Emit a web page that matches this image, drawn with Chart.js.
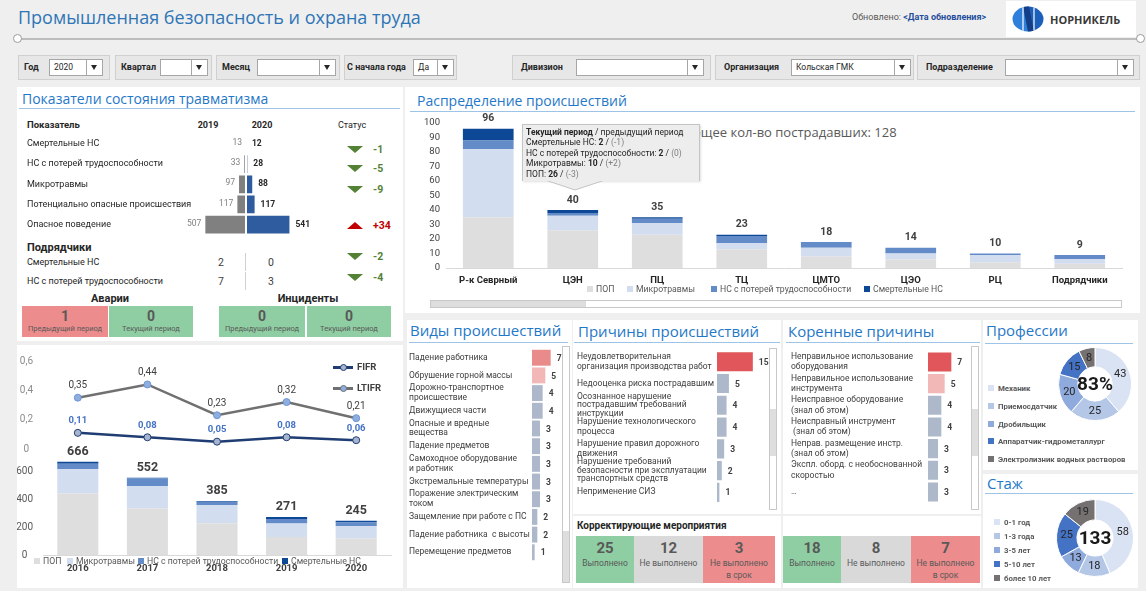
<!DOCTYPE html>
<html lang="ru">
<head>
<meta charset="utf-8">
<title>Промышленная безопасность и охрана труда</title>
<script src="https://cdn.jsdelivr.net/npm/chart.js@4.4.1/dist/chart.umd.min.js"></script>
<style>
  html, body { margin: 0; padding: 0; }
  body { width: 1146px; height: 591px; overflow: hidden; position: relative; background: #efefef; font-family: Roboto, sans-serif; color: #262626; }
  .a { position: absolute; white-space: nowrap; }
  .panel { position: absolute; background: #fff; }
  .ttl { position: absolute; color: #1f78c8; font-family: "Open Sans", sans-serif; font-size: 15px; line-height: 15px; white-space: nowrap; }
  .ul { position: absolute; height: 1px; background: #9dc3e6; }
  canvas { position: absolute; }
  .fbox { position: absolute; top: 55px; height: 25px; background: #e7e7e7; border: 1px solid #d0d0d0; box-sizing: border-box; }
  .flab { position: absolute; left: 5px; top: 6px; font-size: 9px; font-weight: bold; line-height: 11px; white-space: nowrap; }
  .dd { position: absolute; top: 3px; height: 17px; background: #fff; border: 1px solid #a6a6a6; box-sizing: border-box; font-size: 8.5px; line-height: 15px; padding-left: 4px; }
  .dd i { position: absolute; right: 0; top: 0; width: 15px; height: 15px; border-left: 1px solid #a6a6a6; }
  .dd i:after { content: ''; position: absolute; left: 4px; top: 5px; border-left: 3.5px solid transparent; border-right: 3.5px solid transparent; border-top: 5px solid #262626; }
  .kbox { position: absolute; height: 31px; text-align: center; color: #595959; }
  .kbox b { display: block; font-size: 14px; line-height: 16px; margin-top: 2px; }
  .kbox span { display: block; font-size: 7.5px; line-height: 10px; }
  .cbox { position: absolute; top: 536px; height: 47px; text-align: center; color: #595959; }
  .cbox b { display: block; font-size: 15px; line-height: 17px; margin-top: 4px; }
  .cbox span { display: block; font-size: 8.5px; line-height: 12px; }
  .tri { position: absolute; width: 0; height: 0; border-left: 8px solid transparent; border-right: 8px solid transparent; }
  .sb { position: absolute; border: 1px solid #c8c8c8; box-sizing: border-box; background: #fff; }
  .sb i { position: absolute; left: 0; right: 0; background: #dedede; }
  .lg { position: absolute; font-size: 8.7px; line-height: 11px; color: #595959; white-space: nowrap; }
  .lg i { display: inline-block; width: 6px; height: 6px; margin-right: 3px; vertical-align: 0; }
  .dl { position: absolute; font-size: 7.8px; font-weight: bold; line-height: 10px; color: #595959; white-space: nowrap; }
  .dl i { display: inline-block; width: 6px; height: 6px; margin-right: 4px; }
</style>
</head>
<body>

<!-- header -->
<div class="a" style="left:18px;top:8px;font-family:'Open Sans',sans-serif;font-size:18px;line-height:18px;color:#2e75b6;">Промышленная безопасность и охрана труда</div>
<div class="a" style="left:852px;top:12px;font-size:9px;line-height:10px;color:#595959;">Обновлено: <b style="color:#1f4e9c">&lt;Дата обновления&gt;</b></div>
<div class="a" style="left:1006px;top:1px;width:130px;height:36px;background:#fff;"></div>
<svg class="a" style="left:1012px;top:6px" width="32" height="26" viewBox="0 0 32 26">
  <defs><clipPath id="logoClip"><ellipse cx="16" cy="13" rx="15.5" ry="12.5"/></clipPath></defs>
  <g clip-path="url(#logoClip)">
    <rect x="0" y="0" width="16" height="26" fill="#2f80db"/>
    <rect x="16" y="0" width="16" height="26" fill="#1b5fba"/>
    <polygon points="11,0 17,0 22,26 16,26" fill="#143f86"/>
    <path d="M11 0 L11 26 M22 0 L22 26" stroke="#fff" stroke-width="1.2"/>
  </g>
</svg>
<div class="a" style="left:1050px;top:14px;font-family:'Open Sans',sans-serif;font-size:11px;line-height:12px;font-weight:bold;color:#3a3a3a;">НОРНИКЕЛЬ</div>
<div class="a" style="left:18px;top:38px;width:1122px;height:1.5px;background:#bdbdbd;"></div>
<div class="a" style="left:13px;top:34px;width:7px;height:7px;border:1px solid #9a9a9a;border-radius:50%;background:#fff;"></div>
<div class="a" style="left:1136px;top:34px;width:7px;height:7px;border:1px solid #9a9a9a;border-radius:50%;background:#fff;"></div>

<div class="fbox" style="left:18px;width:92px;"><span class="flab">Год</span><div class="dd" style="left:30px;width:54px;">2020<i></i></div></div>
<div class="fbox" style="left:115px;width:97px;"><span class="flab">Квартал</span><div class="dd" style="left:44px;width:48px;"><i></i></div></div>
<div class="fbox" style="left:216px;width:124px;"><span class="flab">Месяц</span><div class="dd" style="left:40px;width:79px;"><i></i></div></div>
<div class="fbox" style="left:344px;width:113px;"><span class="flab" style="left:2px">С начала года</span><div class="dd" style="left:68px;width:41px;">Да<i></i></div></div>
<div class="fbox" style="left:512px;width:199px;"><span class="flab" style="left:8px">Дивизион</span><div class="dd" style="left:63px;width:128px;"><i></i></div></div>
<div class="fbox" style="left:715px;width:199px;"><span class="flab" style="left:8px">Организация</span><div class="dd" style="left:75px;width:120px;">Кольская ГМК<i></i></div></div>
<div class="fbox" style="left:917px;width:223px;"><span class="flab" style="left:8px">Подразделение</span><div class="dd" style="left:87px;width:129px;"><i></i></div></div>

<!-- panels -->
<div class="panel" style="left:17px;top:87px;width:386px;height:254px;"></div>
<div class="panel" style="left:17px;top:345px;width:386px;height:243px;"></div>
<div class="panel" style="left:405px;top:87px;width:735px;height:226px;"></div>
<div class="panel" style="left:407px;top:320px;width:165px;height:268px;"></div>
<div class="panel" style="left:573px;top:320px;width:208px;height:194px;"></div>
<div class="panel" style="left:573px;top:516px;width:208px;height:72px;"></div>
<div class="panel" style="left:783px;top:320px;width:198px;height:194px;"></div>
<div class="panel" style="left:783px;top:516px;width:198px;height:72px;"></div>
<div class="panel" style="left:983px;top:320px;width:155px;height:150px;"></div>
<div class="panel" style="left:983px;top:474px;width:155px;height:114px;"></div>

<div class="ttl" style="left:22px;top:92px;font-size:14px;line-height:14px;">Показатели состояния травматизма</div>
<div class="ul" style="left:19px;top:108px;width:381px;"></div>
<div class="ttl" style="left:417px;top:94px;font-size:14px;line-height:14px;">Распределение происшествий</div>
<div class="ul" style="left:410px;top:111px;width:725px;"></div>
<div class="ttl" style="left:410px;top:323px;">Виды происшествий</div>
<div class="ul" style="left:409px;top:342px;width:159px;"></div>
<div class="ttl" style="left:578px;top:324px;">Причины происшествий</div>
<div class="ul" style="left:574px;top:342px;width:206px;"></div>
<div class="ttl" style="left:788px;top:324px;">Коренные причины</div>
<div class="ul" style="left:786px;top:342px;width:194px;"></div>
<div class="ttl" style="left:986px;top:323px;">Профессии</div>
<div class="ul" style="left:985px;top:343px;width:148px;"></div>
<div class="ttl" style="left:987px;top:476px;">Стаж</div>
<div class="ul" style="left:985px;top:493px;width:148px;"></div>

<!-- KPI table -->
<div class="a" style="left:27px;top:120px;font-size:9.5px;line-height:10px;font-weight:bold;">Показатель</div>
<div class="a" style="left:192px;top:120px;width:32px;text-align:center;font-size:9px;line-height:10px;font-weight:bold;">2019</div>
<div class="a" style="left:246px;top:120px;width:32px;text-align:center;font-size:9px;line-height:10px;font-weight:bold;">2020</div>
<div class="a" style="left:332px;top:120px;width:40px;text-align:center;font-size:9px;line-height:10px;">Статус</div>
<canvas id="kpi-chart" width="300" height="112" style="left:20px;top:128px;"></canvas>
<div id="kpi-status"></div>
<div class="a" style="left:27px;top:242px;font-size:11px;line-height:12px;font-weight:bold;">Подрядчики</div>
<div id="contractors"></div>
<div class="a" style="left:60px;top:293px;width:100px;text-align:center;font-size:11px;line-height:12px;font-weight:bold;">Аварии</div>
<div class="a" style="left:258px;top:293px;width:100px;text-align:center;font-size:11px;line-height:12px;font-weight:bold;">Инциденты</div>
<div id="kpi-boxes"></div>

<!-- yearly charts -->
<canvas id="rate-chart" width="386" height="120" style="left:17px;top:345px;"></canvas>
<canvas id="year-chart" width="386" height="148" style="left:17px;top:440px;"></canvas>
<div id="rate-legend"></div>
<div id="year-legend"></div>

<!-- distribution -->
<div class="a" style="left:683px;top:125px;font-family:'Open Sans',sans-serif;font-size:13px;line-height:15px;color:#595959;">Общее кол-во пострадавших: <span id="victims"></span></div>
<canvas id="div-chart" width="735" height="180" style="left:405px;top:105px;"></canvas>
<div id="div-legend"></div>
<div class="sb" style="left:430px;top:300px;width:692px;height:8px;"><i style="top:0;bottom:0;left:0;right:auto;width:155px;"></i></div>
<svg class="a" style="left:540px;top:179px;z-index:3" width="70" height="13" viewBox="0 0 70 13">
  <polygon points="5,1 35,11 65,1" fill="#ededed" stroke="#c4c4c4" stroke-width="1"/>
  <rect x="0" y="0" width="70" height="2" fill="#ededed"/>
</svg>
<div id="tip" class="a" style="left:522px;top:124px;width:178px;height:57px;background:#ededed;border:1px solid #c4c4c4;border-bottom:none;box-shadow:1px 1px 2px rgba(0,0,0,.12);font-size:8.5px;line-height:10.4px;padding:2px 3px;box-sizing:border-box;z-index:2;color:#262626;"></div>

<!-- lists -->
<canvas id="types-chart" width="160" height="222" style="left:407px;top:344px;"></canvas>
<div class="sb" style="left:562px;top:346px;width:8px;height:237px;"><i style="top:184px;bottom:0;"></i></div>
<canvas id="causes-chart" width="196" height="167" style="left:573px;top:346px;"></canvas>
<div class="sb" style="left:769px;top:348px;width:8px;height:162px;"><i style="top:60px;height:47px;"></i></div>
<canvas id="roots-chart" width="188" height="167" style="left:783px;top:346px;"></canvas>
<div class="sb" style="left:971px;top:346px;width:8px;height:164px;"><i style="top:62px;height:47px;"></i></div>

<div class="a" style="left:577px;top:520px;font-size:10px;line-height:11px;font-weight:bold;">Корректирующие мероприятия</div>
<div id="corrective"></div>

<!-- donuts -->
<canvas id="prof-chart" width="74" height="74" style="left:1058px;top:347px;"></canvas>
<div id="prof-legend"></div>
<canvas id="exp-chart" width="78" height="78" style="left:1056px;top:499px;"></canvas>
<div id="exp-legend"></div>

<script>
// ---- data ----
const injuryRows = ['Смертельные НС', 'НС с потерей трудоспособности', 'Микротравмы', 'Потенциально опасные происшествия', 'Опасное поведение'];
const injury2019 = [13, 33, 97, 117, 507];
const injury2020 = [12, 28, 88, 117, 541];
const contractorRows = ['Смертельные НС', 'НС с потерей трудоспособности'];
const contractor2019 = [2, 7];
const contractor2020 = [0, 3];
const accidents = [1, 0];
const incidents = [0, 0];
const periodNames = ['Предыдущий период', 'Текущий период'];

const years = ['2016', '2017', '2018', '2019', '2020'];
const fifr = [0.11, 0.08, 0.05, 0.08, 0.06];
const ltifr = [0.35, 0.44, 0.23, 0.32, 0.21];
const yearPop = [440, 333, 226, 128, 117];
const yearMicro = [172, 160, 131, 97, 88];
const yearNs = [40, 54, 24, 33, 28];
const yearFatal = [14, 5, 4, 13, 12];

const divisions = ['Р-к Севрный', 'ЦЭН', 'ПЦ', 'ТЦ', 'ЦМТО', 'ЦЭО', 'РЦ', 'Подрядчики'];
const divPop = [35, 26, 23, 13, 8, 6, 4, 3];
const divMicro = [47, 10, 8, 4, 6, 4, 5, 3];
const divNs = [6, 2, 3, 5, 4, 4, 1, 3];
const divFatal = [8, 2, 1, 1, 0, 0, 0, 0];
const tipDivision = 'ЦЭН';
const tipPrevDelta = [-1, 0, 2, -3]; // Смертельные, НС, Микротравмы, ПОП
const totalVictims = 128;

const incidentTypes = ['Падение работника', 'Обрушение горной массы', ['Дорожно-транспортное', 'происшествие'], 'Движущиеся части',
  ['Опасные и вредные', 'вещества'], 'Падение предметов', ['Самоходное оборудование', 'и работник'], 'Экстремальные температуры',
  ['Поражение электрическим', 'током'], 'Защемление при работе с ПС', 'Падение работника  с высоты', 'Перемещение предметов'];
const incidentCounts = [7, 5, 4, 4, 3, 3, 3, 3, 3, 2, 2, 1];
const causes = [['Неудовлетворительная', 'организация производства работ'], 'Недооценка риска пострадавшим',
  ['Осознанное нарушение', 'пострадавшим требований', 'инструкции'], ['Нарушение технологического', 'процесса'],
  ['Нарушение правил дорожного', 'движения'], ['Нарушение требований', 'безопасности при эксплуатации', 'транспортных средств'],
  'Неприменение СИЗ'];
const causeCounts = [15, 5, 4, 4, 3, 2, 1];
const rootCauses = [['Неправильное использование', 'оборудования'], ['Неправильное использование', 'инструмента'],
  ['Неисправное оборудование', '(знал об этом)'], ['Неисправный инструмент', ' (знал об этом)'],
  ['Неправ. размещение инстр.', '(знал об этом)'], ['Экспл. оборд. с необоснованной', 'скоростью'], '…'];
const rootCauseCounts = [7, 5, 4, 4, 3, 3, 3];

const correctiveNames = ['Выполнено', 'Не выполнено', 'Не выполнено\nв срок'];
const correctiveCauses = [25, 12, 3];
const correctiveRoots = [18, 8, 7];

const professions = ['Механик', 'Приемосдатчик', 'Дробильщик', 'Аппаратчик-гидрометаллург', 'Электролизник водных растворов'];
const professionCounts = [43, 25, 20, 15, 8];
const professionShare = '83%';
const experience = ['0-1 год', '1-3 года', '3-5 лет', '5-10 лет', 'более 10 лет'];
const experienceCounts = [58, 18, 13, 25, 19];

// ---- colours ----
const C_POP = '#dedede', C_MICRO = '#d3ddf0', C_NS = '#638bc7', C_FATAL = '#0c4896';
const C_RED = '#e0565a', C_SALMON = '#e98a8b', C_PINK = '#f2b8b8', C_GREYBLUE = '#adb9ca';
const C_GOOD = '#8fcea3', C_BAD = '#ec8c8c', C_NEUTRAL = '#d9d9d9';
const DONUT = ['#dae3f3', '#b4c7e7', '#8faadc', '#4472c4', '#767171'];

Chart.defaults.font.family = 'Roboto, sans-serif';
Chart.defaults.color = '#404040';
Chart.defaults.animation = false;
Chart.defaults.events = [];
Chart.defaults.plugins.legend.display = false;
Chart.defaults.plugins.tooltip.enabled = false;

const el = (html) => { const d = document.createElement('div'); d.innerHTML = html; return d.firstElementChild; };
const fmtComma = (v, d) => v.toFixed(d).replace('.', ',');

// ---- plugins ----
const butterflyLabels = {
  id: 'butterflyLabels',
  afterDatasetsDraw(chart) {
    const c = chart.ctx;
    c.save();
    c.textBaseline = 'middle';
    c.font = '8.5px Roboto';
    c.fillStyle = '#7f7f7f';
    c.textAlign = 'right';
    chart.getDatasetMeta(0).data.forEach((bar, i) => c.fillText(injury2019[i], bar.x - 3, bar.y - 1));
    c.font = 'bold 8.5px Roboto';
    c.fillStyle = '#262626';
    c.textAlign = 'left';
    chart.getDatasetMeta(1).data.forEach((bar, i) => c.fillText(injury2020[i], bar.x + 5, bar.y));
    c.restore();
  },
};

const stackTotals = {
  id: 'stackTotals',
  afterDatasetsDraw(chart, args, o) {
    const c = chart.ctx;
    const y = chart.scales.y;
    c.save();
    c.font = o.font;
    c.fillStyle = '#404040';
    c.textAlign = 'center';
    c.textBaseline = 'middle';
    chart.getDatasetMeta(0).data.forEach((bar, i) => {
      const total = chart.data.datasets.reduce((s, d) => s + d.data[i], 0);
      c.fillText(total, bar.x, y.getPixelForValue(total) - o.gap);
    });
    c.restore();
  },
};

const pointLabels = {
  id: 'pointLabels',
  afterDatasetsDraw(chart, args, o) {
    const c = chart.ctx;
    c.save();
    c.textAlign = 'center';
    c.textBaseline = 'middle';
    chart.data.datasets.forEach((ds, di) => {
      c.font = o.fonts[di];
      c.fillStyle = o.colors[di];
      chart.getDatasetMeta(di).data.forEach((p, i) => c.fillText(fmtComma(ds.data[i], 2), p.x, p.y - 12));
    });
    c.restore();
  },
};

const valueAfterBar = {
  id: 'valueAfterBar',
  afterDatasetsDraw(chart, args, o) {
    const c = chart.ctx;
    const ds = chart.data.datasets[0];
    c.save();
    c.font = 'bold 8.5px Roboto';
    c.fillStyle = '#404040';
    c.textBaseline = 'middle';
    chart.getDatasetMeta(0).data.forEach((bar, i) => c.fillText(ds.data[i], bar.x + o.gap, bar.y + 1));
    c.restore();
  },
};

const donutText = {
  id: 'donutText',
  afterDatasetsDraw(chart, args, o) {
    const c = chart.ctx;
    const arcs = chart.getDatasetMeta(0).data;
    const ds = chart.data.datasets[0];
    c.save();
    c.textAlign = 'center';
    c.textBaseline = 'middle';
    c.font = '11px Roboto';
    c.fillStyle = '#262626';
    arcs.forEach((arc, i) => {
      const p = arc.tooltipPosition();
      c.fillText(ds.data[i], p.x, p.y);
    });
    c.font = 'bold 19px Roboto';
    c.fillStyle = '#1a1a1a';
    c.fillText(o.center, arcs[0].x, arcs[0].y + 1);
    c.restore();
  },
};

// ---- KPI butterfly ----
new Chart(document.getElementById('kpi-chart'), {
  type: 'bar',
  data: {
    labels: injuryRows,
    datasets: [
      { label: '2019', data: injury2019.map((v) => -v), backgroundColor: '#808080', borderColor: '#fff', borderWidth: 1, borderSkipped: false },
      { label: '2020', data: injury2020, backgroundColor: '#2e5c9e', borderColor: '#fff', borderWidth: 1, borderSkipped: false },
    ],
  },
  options: {
    responsive: false,
    indexAxis: 'y',
    layout: { padding: { left: 7, top: 6, right: 28, bottom: 5 } },
    datasets: { bar: { barPercentage: 1, categoryPercentage: 0.98 } },
    scales: {
      x: { display: false, stacked: true, min: -560, max: 560 },
      y: {
        stacked: true,
        grid: { display: false, drawTicks: false },
        border: { display: false },
        ticks: { crossAlign: 'far', autoSkip: false, color: '#262626', font: { size: 9 }, padding: 0 },
        afterFit: (s) => { s.width = 173; },
      },
    },
  },
  plugins: [butterflyLabels],
});

const statusY = [150, 169, 190, 207, 226];
const kpiStatus = document.getElementById('kpi-status');
function addStatus(delta, cy) {
  if (delta === 0) return;
  const up = delta > 0;
  const col = up ? '#c00000' : '#548235';
  kpiStatus.appendChild(el(`<div class="tri" style="left:347px;top:${cy - 4}px;${up ? 'border-bottom' : 'border-top'}:7px solid ${col};"></div>`));
  kpiStatus.appendChild(el(`<div class="a" style="left:373px;top:${cy - 6}px;font-size:10.5px;line-height:12px;font-weight:bold;color:${col};">${up ? '+' : ''}${delta}</div>`));
}
injury2020.forEach((v, i) => addStatus(v - injury2019[i], statusY[i]));

const contractorsBox = document.getElementById('contractors');
const contractorY = [263, 282];
contractorRows.forEach((name, i) => {
  const cy = contractorY[i];
  contractorsBox.appendChild(el(`<div class="a" style="left:27px;top:${cy - 6}px;font-size:9px;line-height:11px;">${name}</div>`));
  contractorsBox.appendChild(el(`<div class="a" style="left:211px;top:${cy - 7}px;width:20px;text-align:center;font-size:10.5px;line-height:13px;color:#404040;">${contractor2019[i]}</div>`));
  contractorsBox.appendChild(el(`<div class="a" style="left:261px;top:${cy - 7}px;width:20px;text-align:center;font-size:10.5px;line-height:13px;color:#404040;">${contractor2020[i]}</div>`));
  contractorsBox.appendChild(el(`<div class="a" style="left:245px;top:${cy - 10}px;width:1px;height:18px;background:#d0d0d0;"></div>`));
  addStatus(contractor2020[i] - contractor2019[i], cy - 6 + i * 2);
});

const kpiBoxes = document.getElementById('kpi-boxes');
[[accidents, [22, 109]], [incidents, [219, 307]]].forEach(([vals, xs]) => {
  vals.forEach((v, i) => {
    kpiBoxes.appendChild(el(`<div class="kbox" style="left:${xs[i]}px;top:306px;width:${i ? 84 : 86}px;background:${v > 0 ? C_BAD : C_GOOD};"><b>${v}</b><span>${periodNames[i]}</span></div>`));
  });
});

// ---- FIFR / LTIFR ----
new Chart(document.getElementById('rate-chart'), {
  type: 'line',
  data: {
    labels: years,
    datasets: [
      { label: 'LTIFR', data: ltifr, borderColor: '#707070', borderWidth: 2.5, pointRadius: 3.5, pointBackgroundColor: '#8eaee0', pointBorderColor: '#6f95d4', pointBorderWidth: 1 },
      { label: 'FIFR', data: fifr, borderColor: '#1f3d73', borderWidth: 2.5, pointRadius: 3.5, pointBackgroundColor: '#a6b4d0', pointBorderColor: '#1f3d73', pointBorderWidth: 1 },
    ],
  },
  options: {
    responsive: false,
    layout: { padding: { top: 14, right: 12, bottom: 13 } },
    scales: {
      x: { display: false, offset: true },
      y: {
        min: 0, max: 0.6,
        grid: { display: false, drawTicks: false },
        border: { display: false },
        ticks: { stepSize: 0.2, color: '#8c8c8c', font: { size: 10 }, padding: 10, crossAlign: 'center', callback: (v) => (v === 0 ? '0' : fmtComma(v, 1)) },
        afterFit: (s) => { s.width = 26; },
      },
    },
    plugins: { pointLabels: { fonts: ['10px Roboto', 'bold 9.5px Roboto'], colors: ['#404040', '#4472c4'] } },
  },
  plugins: [pointLabels],
});

const rateLegend = document.getElementById('rate-legend');
[['FIFR', '#1f3d73', '#a6b4d0', 367], ['LTIFR', '#707070', '#8eaee0', 388]].forEach(([name, line, dot, cy]) => {
  rateLegend.appendChild(el(`<div class="a" style="left:333px;top:${cy - 1}px;width:20px;height:2.5px;background:${line};"></div>`));
  rateLegend.appendChild(el(`<div class="a" style="left:340px;top:${cy - 3}px;width:5px;height:5px;border-radius:50%;background:${dot};border:1px solid ${line};"></div>`));
  rateLegend.appendChild(el(`<div class="a" style="left:357px;top:${cy - 6}px;font-size:9.5px;line-height:11px;font-weight:bold;color:#404040;">${name}</div>`));
});

// ---- yearly stacked bars ----
const stackSets = (pop, micro, ns, fatal) => [
  { label: 'ПОП', data: pop, backgroundColor: C_POP },
  { label: 'Микротравмы', data: micro, backgroundColor: C_MICRO },
  { label: 'НС с потерей трудоспособности', data: ns, backgroundColor: C_NS },
  { label: 'Смертельные НС', data: fatal, backgroundColor: C_FATAL },
];

new Chart(document.getElementById('year-chart'), {
  type: 'bar',
  data: { labels: years, datasets: stackSets(yearPop, yearMicro, yearNs, yearFatal) },
  options: {
    responsive: false,
    layout: { padding: { top: 17, right: 12 } },
    datasets: { bar: { barPercentage: 0.59, categoryPercentage: 1 } },
    scales: {
      x: {
        stacked: true,
        grid: { display: false, drawTicks: false },
        border: { color: '#d9d9d9' },
        ticks: { font: { size: 9.5, weight: 'bold' }, color: '#404040', padding: 8 },
        afterFit: (s) => { s.height = 33; },
      },
      y: {
        stacked: true, min: 0, max: 700,
        grid: { display: false, drawTicks: false },
        border: { display: false },
        ticks: { stepSize: 200, color: '#595959', font: { size: 10 }, padding: 10, crossAlign: 'center' },
        afterBuildTicks: (s) => { s.ticks = s.ticks.filter((t) => t.value % 200 === 0); },
        afterFit: (s) => { s.width = 26; },
      },
    },
    plugins: { stackTotals: { font: 'bold 12.5px Roboto', gap: 10 } },
  },
  plugins: [stackTotals],
});

function htmlLegend(box, items, cy, xs) {
  items.forEach(([name, col], i) => {
    box.appendChild(el(`<div class="lg" style="left:${xs[i]}px;top:${cy - 6}px;"><i style="background:${col}"></i>${name}</div>`));
  });
}
const stackLegendItems = [['ПОП', C_POP], ['Микротравмы', C_MICRO], ['НС с потерей трудоспособности', C_NS], ['Смертельные НС', C_FATAL]];
htmlLegend(document.getElementById('year-legend'), stackLegendItems, 562, [34, 67, 138, 282]);

// ---- distribution ----
new Chart(document.getElementById('div-chart'), {
  type: 'bar',
  data: { labels: divisions, datasets: stackSets(divPop, divMicro, divNs, divFatal) },
  options: {
    responsive: false,
    layout: { padding: { top: 18, right: 18 } },
    datasets: { bar: { barPercentage: 0.6, categoryPercentage: 1 } },
    scales: {
      x: {
        stacked: true,
        grid: { display: false, drawTicks: false },
        border: { color: '#d9d9d9' },
        ticks: { font: { size: 9.5, weight: 'bold' }, color: '#262626', padding: 7 },
        afterFit: (s) => { s.height = 17; },
      },
      y: {
        stacked: true, min: 0, max: 100,
        grid: { display: false, drawTicks: false },
        border: { display: false },
        ticks: { stepSize: 10, color: '#404040', font: { size: 9.5 }, padding: 6, autoSkip: false },
        afterFit: (s) => { s.width = 41; },
      },
    },
    plugins: { stackTotals: { font: 'bold 10.5px Roboto', gap: 10 } },
  },
  plugins: [stackTotals],
});
htmlLegend(document.getElementById('div-legend'), stackLegendItems, 290, [587, 627, 711, 864]);
document.getElementById('victims').textContent = totalVictims;

const ti = divisions.indexOf(tipDivision);
const tipRows = [['Смертельные НС', divFatal[ti]], ['НС с потерей трудоспособности', divNs[ti]], ['Микротравмы', divMicro[ti]], ['ПОП', divPop[ti]]];
const sign = (d) => (d > 0 ? '+' + d : String(d));
document.getElementById('tip').innerHTML = '<b>Текущий период</b> / предыдущий период<br>' +
  tipRows.map(([n, v], i) => `${n}: <b>${v}</b> / <span style="color:#7f7f7f">(${sign(tipPrevDelta[i])})</span>`).join('<br>');

// ---- lists ----
function listColors(values, top) {
  return values.map((v, i) => top[i] || C_GREYBLUE);
}
function listChart(id, labels, values, colors, max, axisWidth, padding, lineHeight, barPct) {
  // three-line labels are set a bit tighter so they do not run into their neighbours
  const tickFont = (ctx) => {
    const l = labels[ctx.index];
    return { size: 8.5, lineHeight: Array.isArray(l) && l.length > 2 ? 1.0 : lineHeight };
  };
  return new Chart(document.getElementById(id), {
    type: 'bar',
    data: { labels, datasets: [{ data: values, backgroundColor: colors }] },
    options: {
      responsive: false,
      indexAxis: 'y',
      layout: { padding },
      datasets: { bar: { barPercentage: barPct, categoryPercentage: 1 } },
      scales: {
        x: { display: false, min: 0, max },
        y: {
          grid: { display: false, drawTicks: false },
          border: { display: false },
          ticks: { crossAlign: 'far', autoSkip: false, color: '#404040', font: tickFont, padding: 0 },
          afterFit: (s) => { s.width = axisWidth; },
        },
      },
      plugins: { valueAfterBar: { gap: 6 } },
    },
    plugins: [valueAfterBar],
  });
}
listChart('types-chart', incidentTypes, incidentCounts, listColors(incidentCounts, [C_SALMON, C_PINK]), 9, 123, { left: 2, top: 4, bottom: 4, right: 11 }, 1.15, 0.9);
listChart('causes-chart', causes, causeCounts, listColors(causeCounts, [C_RED]), 18, 140, { left: 4, top: 4, bottom: 4, right: 9 }, 1.15, 0.88);
listChart('roots-chart', rootCauses, rootCauseCounts, listColors(rootCauseCounts, [C_RED, C_PINK]), 9, 137, { left: 8, top: 4, bottom: 4, right: 13 }, 1.2, 0.88);

const corr = document.getElementById('corrective');
const corrColors = [C_GOOD, C_NEUTRAL, C_BAD];
[[correctiveCauses, [576, 634, 703], [58, 69, 72]], [correctiveRoots, [783, 841, 911], [58, 70, 69]]].forEach(([vals, xs, ws]) => {
  vals.forEach((v, i) => {
    corr.appendChild(el(`<div class="cbox" style="left:${xs[i]}px;width:${ws[i]}px;background:${corrColors[i]};"><b>${v}</b><span>${correctiveNames[i].replace('\n', '<br>')}</span></div>`));
  });
});

// ---- donuts ----
function donut(id, labels, values, center) {
  new Chart(document.getElementById(id), {
    type: 'doughnut',
    data: { labels, datasets: [{ data: values, backgroundColor: DONUT, borderColor: '#fff', borderWidth: 1 }] },
    options: { responsive: false, cutout: '47%', plugins: { donutText: { center } } },
    plugins: [donutText],
  });
}
donut('prof-chart', professions, professionCounts, professionShare);
donut('exp-chart', experience, experienceCounts, String(experienceCounts.reduce((a, b) => a + b, 0)));

function donutLegend(box, names, x, y0, step) {
  names.forEach((n, i) => {
    box.appendChild(el(`<div class="dl" style="left:${x}px;top:${y0 + i * step - 5}px;"><i style="background:${DONUT[i]}"></i>${n}</div>`));
  });
}
donutLegend(document.getElementById('prof-legend'), professions, 988, 389, 17.8);
donutLegend(document.getElementById('exp-legend'), experience, 994, 523, 14);
</script>
</body>
</html>
